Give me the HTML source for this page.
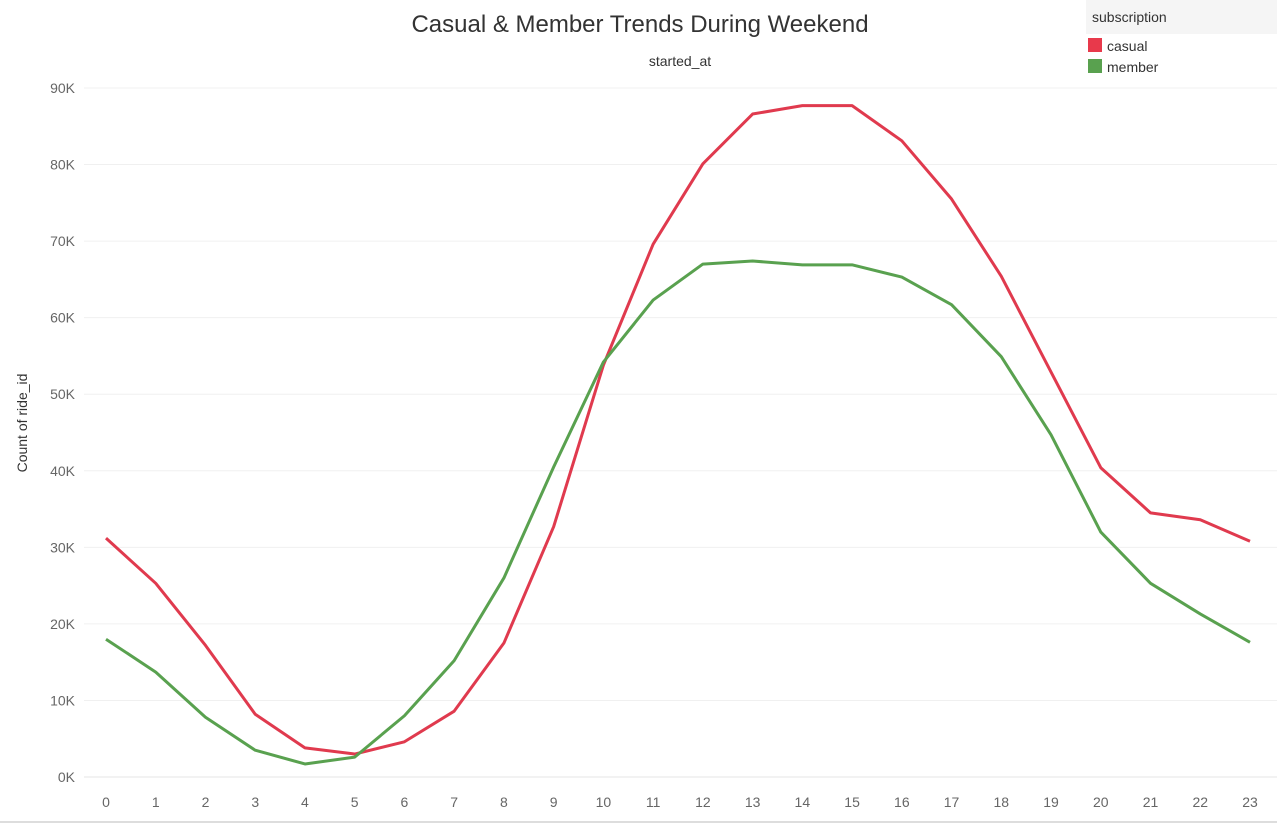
<!DOCTYPE html>
<html><head><meta charset="utf-8">
<style>
body{margin:0;background:#fff;font-family:"Liberation Sans",sans-serif;}
svg{display:block}
</style></head>
<body>
<svg id="chart" width="1277" height="824">
<text x="640" y="32" text-anchor="middle" font-size="24" fill="#333">Casual &amp; Member Trends During Weekend</text>
<text x="680" y="66" text-anchor="middle" font-size="14" fill="#333">started_at</text>
<text transform="translate(27,423) rotate(-90)" text-anchor="middle" font-size="14" fill="#333">Count of ride_id</text>
<g>
<rect x="1086" y="0" width="191" height="34" fill="#f5f5f5"/>
<text x="1092" y="22" font-size="14" fill="#333">subscription</text>
<rect x="1088" y="38" width="14" height="14" fill="#e8394b"/>
<text x="1107" y="51" font-size="14" fill="#333">casual</text>
<rect x="1088" y="59" width="14" height="14" fill="#59a14f"/>
<text x="1107" y="72" font-size="14" fill="#333">member</text>
</g>
<g id="grid"></g><g id="yticks"></g><g id="xticks"></g><g id="lines"></g>
<line x1="0" y1="822" x2="1277" y2="822" stroke="#bbb"/>
</svg>
<script>
const hours=[0,1,2,3,4,5,6,7,8,9,10,11,12,13,14,15,16,17,18,19,20,21,22,23];
const casual=[31.2,25.3,17.2,8.2,3.8,3.0,4.6,8.6,17.5,32.7,53.8,69.6,80.1,86.6,87.7,87.7,83.1,75.5,65.4,52.9,40.4,34.5,33.6,30.8];
const member=[18.0,13.7,7.8,3.5,1.7,2.6,8.0,15.2,26.0,40.5,54.2,62.3,67.0,67.4,66.9,66.9,65.3,61.7,54.9,44.7,32.0,25.3,21.3,17.6];
const yTicks=[0,10,20,30,40,50,60,70,80,90];
const NS="http://www.w3.org/2000/svg";
const x=h=>106+h*(1250-106)/23;
const y=v=>777-v*(777-88)/90;
function mk(tag,attrs,parent){const e=document.createElementNS(NS,tag);for(const k in attrs)e.setAttribute(k,attrs[k]);document.getElementById(parent).appendChild(e);return e;}
yTicks.forEach(t=>{
 const g=mk('line',{x1:84,x2:1277,y1:y(t),y2:y(t),stroke:t===0?'#e6e6e6':'#f0f0f0'},'grid');
 
 
 const l=mk('text',{x:75,y:y(t)+5,'text-anchor':'end','font-size':14,fill:'#666'},'yticks');
 l.textContent=t+'K';
 
 
});
hours.forEach(h=>{
 const l=mk('text',{x:x(h),y:807,'text-anchor':'middle','font-size':14,fill:'#666'},'xticks');
 l.textContent=h;
 
 
});
[[casual,'#e03a4e','casual-line'],[member,'#59a14f','member-line']].forEach(([d,c,n])=>{
 const p=mk('polyline',{points:d.map((v,i)=>x(hours[i])+','+y(v)).join(' '),fill:'none',stroke:c,'stroke-width':3,'stroke-linejoin':'round'},'lines');
 
 
});
</script>
</body></html>
